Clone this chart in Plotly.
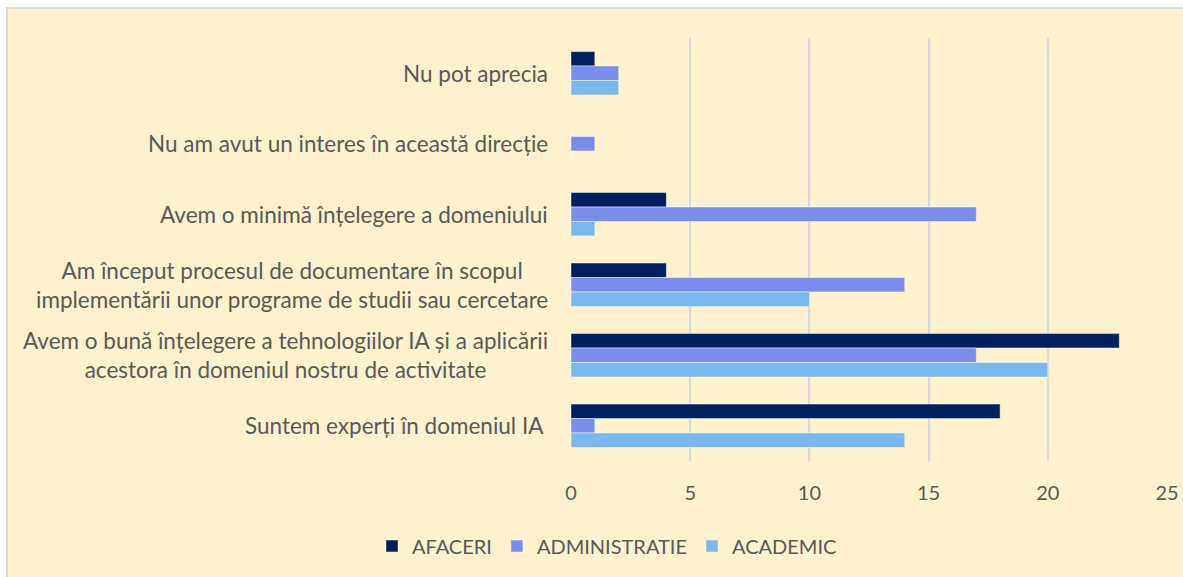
import plotly.graph_objects as go

categories = [
    "Nu pot aprecia",
    "Nu am avut un interes în această direcție",
    "Avem o minimă înțelegere a domeniului",
    "Am început procesul de documentare în scopul<br>implementării unor programe de studii sau cercetare",
    "Avem o bună înțelegere a tehnologiilor IA și a aplicării<br>acestora în domeniul nostru de activitate",
    "Suntem experți în domeniul IA ",
]
afaceri = [1, 0, 4, 4, 23, 18]
administratie = [2, 1, 17, 14, 17, 1]
academic = [2, 0, 1, 10, 20, 14]
series_names = ["AFACERI", "ADMINISTRATIE", "ACADEMIC"]
series_colors = ["#002060", "#7B8CEF", "#7AB8F0"]
x_ticks = [0, 5, 10, 15, 20, 25]

FONT = "Lato"
TXT = "#595959"

W, H = 1183, 577
L, R, T, B = 571, 16, 38, 116
PW, PH = W - L - R, H - T - B

fig = go.Figure()
for name, vals, col in zip(series_names, [afaceri, administratie, academic], series_colors):
    fig.add_trace(go.Bar(
        y=categories, x=vals, name=name, orientation="h",
        marker=dict(color=col, line=dict(color="rgba(255,255,255,0.45)", width=1)),
    ))

for c in categories:
    fig.add_annotation(
        x=0, xref="paper", y=c, yref="y", text=c, showarrow=False,
        xanchor="right", yanchor="middle", align="center", xshift=-21,
        font=dict(family=FONT, size=22.5, color=TXT),
    )

# chart area frame: starts at pixel (7, 8), runs past the right and bottom edges
fig.add_shape(
    type="rect", xref="paper", yref="paper",
    x0=(7 - L) / PW, x1=1 + (R + 20) / PW, y0=-(B + 20) / PH, y1=1 + (T - 8) / PH,
    line=dict(color="#D9D9D9", width=2), fillcolor="#FFF2CC", layer="below",
)

fig.update_layout(
    width=W, height=H,
    margin=dict(l=L, r=R, t=T, b=B, autoexpand=False),
    paper_bgcolor="white", plot_bgcolor="#FFF2CC",
    barmode="group", bargap=0.385, bargroupgap=0,
    font=dict(family=FONT, color=TXT),
    showlegend=True,
    legend=dict(
        orientation="h", x=(607 - L) / PW, xanchor="center", y=-85 / PH, yanchor="middle",
        font=dict(family=FONT, size=20, color=TXT), bgcolor="rgba(0,0,0,0)",
        traceorder="normal",
    ),
)
fig.update_xaxes(
    range=[0, 25], tickvals=x_ticks, showgrid=True, gridcolor="#D9D9D9", gridwidth=1.5,
    zeroline=False, showline=False, ticks="", ticklabelstandoff=18,
    tickfont=dict(family=FONT, size=20, color=TXT),
)
fig.update_yaxes(
    autorange="reversed", showticklabels=False, showgrid=False, zeroline=False, showline=False,
)

fig.write_html(
    "out.html",
    config={"displayModeBar": False},
    post_script="document.body.style.margin='0';document.body.style.overflow='hidden';",
)
